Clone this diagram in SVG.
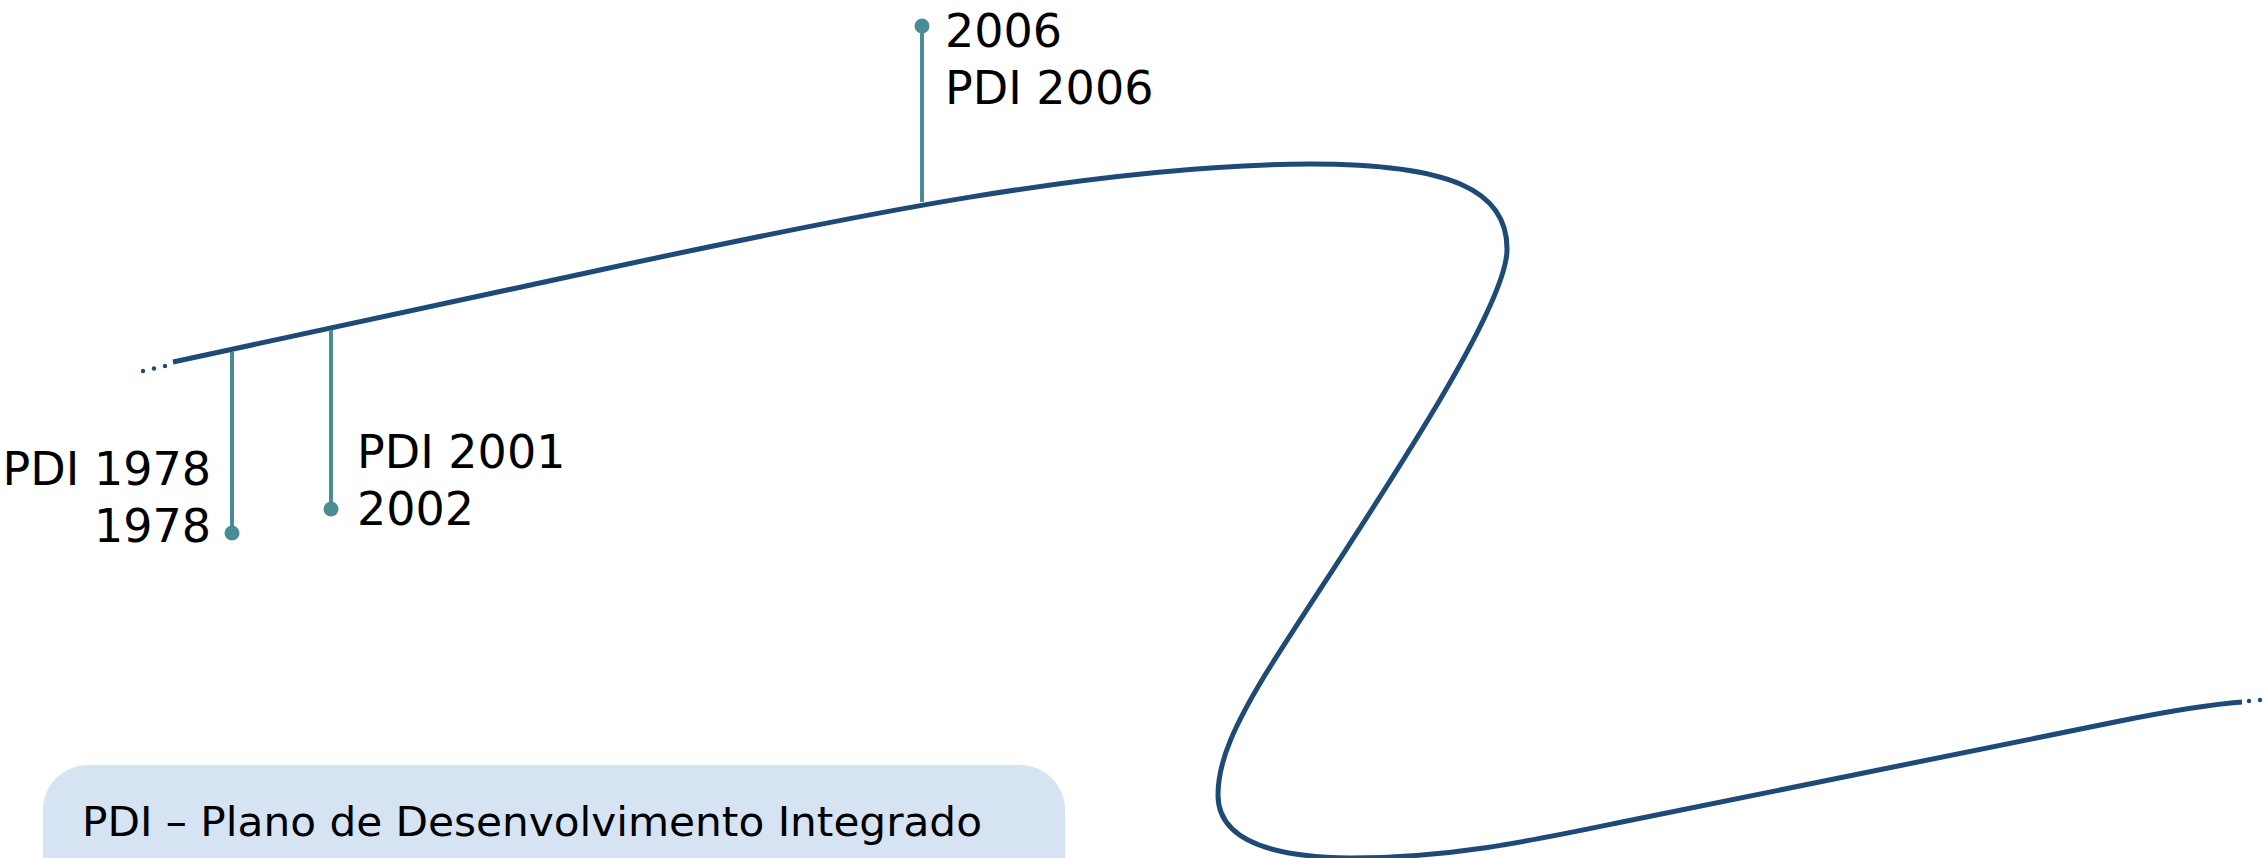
<svg xmlns="http://www.w3.org/2000/svg" width="2266" height="858" viewBox="0 0 2266 858">
<style>
.lbl{font-family:"DejaVu Sans","Liberation Sans",sans-serif;font-size:46px;fill:#000}
.tick{stroke:#4a8c96;stroke-width:4;fill:none}
.pin{fill:#4a8c96}
.road{stroke:#1e4a76;stroke-width:5;fill:none;stroke-linecap:butt;stroke-linejoin:round}
.dot{fill:#1e4a76}
.note{font-family:"DejaVu Sans","Liberation Sans",sans-serif;font-size:40px;fill:#000}
</style>
<rect width="2266" height="858" fill="#ffffff"/>
<g id="connectors">
<path class="road" d="M173,362 L600,270 C850,216 1100,165 1310,164 C1450,164 1508,190 1507,250 C1506,320 1330,570 1265,675 C1236,723 1218,760 1218,795 C1218,835 1260,857 1350,858 C1450,858 1530,841 1617,823 L2120,721 C2180,709 2215,704 2242,702"/>
<circle class="dot" cx="143" cy="371" r="2.2"/>
<circle class="dot" cx="154" cy="368.5" r="2.2"/>
<circle class="dot" cx="165" cy="366" r="2.2"/>
<circle class="dot" cx="2249" cy="701" r="2.2"/>
<circle class="dot" cx="2260" cy="700" r="2.2"/>
</g>
<g id="node-1978">
<line class="tick" x1="232" y1="352" x2="232" y2="533"/>
<circle class="pin" cx="232" cy="533" r="7.5"/>
<text class="lbl" x="211" y="485" text-anchor="end">PDI 1978</text>
<text class="lbl" x="211" y="542" text-anchor="end">1978</text>
</g>
<g id="node-2002">
<line class="tick" x1="331" y1="330" x2="331" y2="509"/>
<circle class="pin" cx="331" cy="509" r="7.5"/>
<text class="lbl" x="357" y="468">PDI 2001</text>
<text class="lbl" x="357" y="525">2002</text>
</g>
<g id="node-2006">
<line class="tick" x1="922" y1="202" x2="922" y2="26"/>
<circle class="pin" cx="922" cy="26" r="7.5"/>
<text class="lbl" x="945" y="47">2006</text>
<text class="lbl" x="945" y="104">PDI 2006</text>
</g>
<g id="legend">
<rect x="43" y="765" width="1022" height="220" rx="45" fill="#d5e3f3"/>
<text class="note" x="82" y="836" textLength="900" lengthAdjust="spacingAndGlyphs">PDI – Plano de Desenvolvimento Integrado</text>
</g>
</svg>
